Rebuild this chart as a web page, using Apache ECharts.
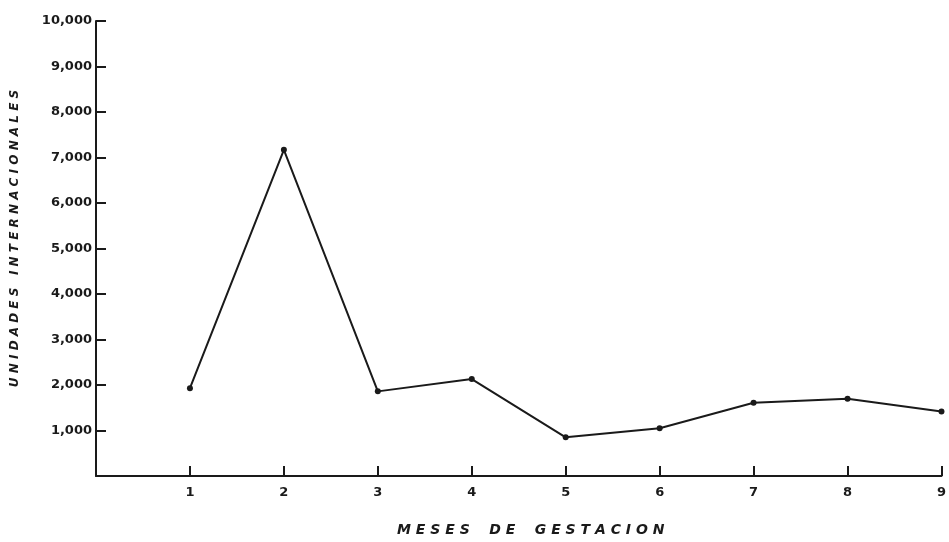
<!DOCTYPE html>
<html>
<head>
<meta charset="utf-8">
<script src="https://cdn.jsdelivr.net/npm/echarts@6/dist/echarts.min.js"></script>
<style>html,body{margin:0;padding:0;background:#fff;}#c{width:949px;height:542px;}</style>
</head>
<body>
<div id="c"></div>
<script>
var months = [1, 2, 3, 4, 5, 6, 7, 8, 9];
var units = [1930, 7170, 1860, 2130, 850, 1050, 1610, 1700, 1420];
var yTitle = "U N I D A D E S   I N T E R N A C I O N A L E S";
var xTitle = "M E S E S    D E    G E S T A C I O N";

var data = months.map(function (m, i) { return [m, units[i]]; });
var chart = echarts.init(document.getElementById('c'));
var ink = '#1a1a1a';
chart.setOption({
  animation: false,
  backgroundColor: '#ffffff',
  grid: { left: 96, right: 5, top: 21, bottom: 58 },
  xAxis: {
    type: 'value', min: 0, max: 9, interval: 1,
    name: xTitle, nameLocation: 'middle', nameGap: 47,
    nameTextStyle: { fontFamily: 'DejaVu Sans', fontWeight: 'bold', fontStyle: 'italic', fontSize: 14, color: ink, padding: [0, 0, 0, 24] },
    axisLine: { show: true, lineStyle: { color: ink, width: 2 } },
    axisTick: { show: true, inside: true, length: 10, lineStyle: { color: ink, width: 2 } },
    axisLabel: { margin: 10, fontFamily: 'DejaVu Sans', fontWeight: 'bold', fontSize: 13, color: ink,
      formatter: function (v) { return v === 0 ? '' : String(v); } },
    splitLine: { show: false }
  },
  yAxis: {
    type: 'value', min: 0, max: 10000, interval: 1000,
    name: yTitle, nameLocation: 'middle', nameGap: 75, nameRotate: 90,
    nameTextStyle: { fontFamily: 'DejaVu Sans', fontWeight: 'bold', fontStyle: 'italic', fontSize: 12, color: ink, padding: [0, 0, 0, 20] },
    axisLine: { show: true, lineStyle: { color: ink, width: 2 } },
    axisTick: { show: true, inside: true, length: 10, lineStyle: { color: ink, width: 2 } },
    axisLabel: { margin: 4, showMinLabel: false, fontFamily: 'DejaVu Sans', fontWeight: 'bold', fontSize: 13, color: ink,
      formatter: function (v) { return v === 0 ? '' : v.toString().replace(/\B(?=(\d{3})+(?!\d))/g, ','); } },
    splitLine: { show: false }
  },
  series: [{
    type: 'line', data: data,
    symbol: 'circle', symbolSize: 6,
    itemStyle: { color: ink },
    lineStyle: { color: ink, width: 2 }
  }]
});
</script>
</body>
</html>
